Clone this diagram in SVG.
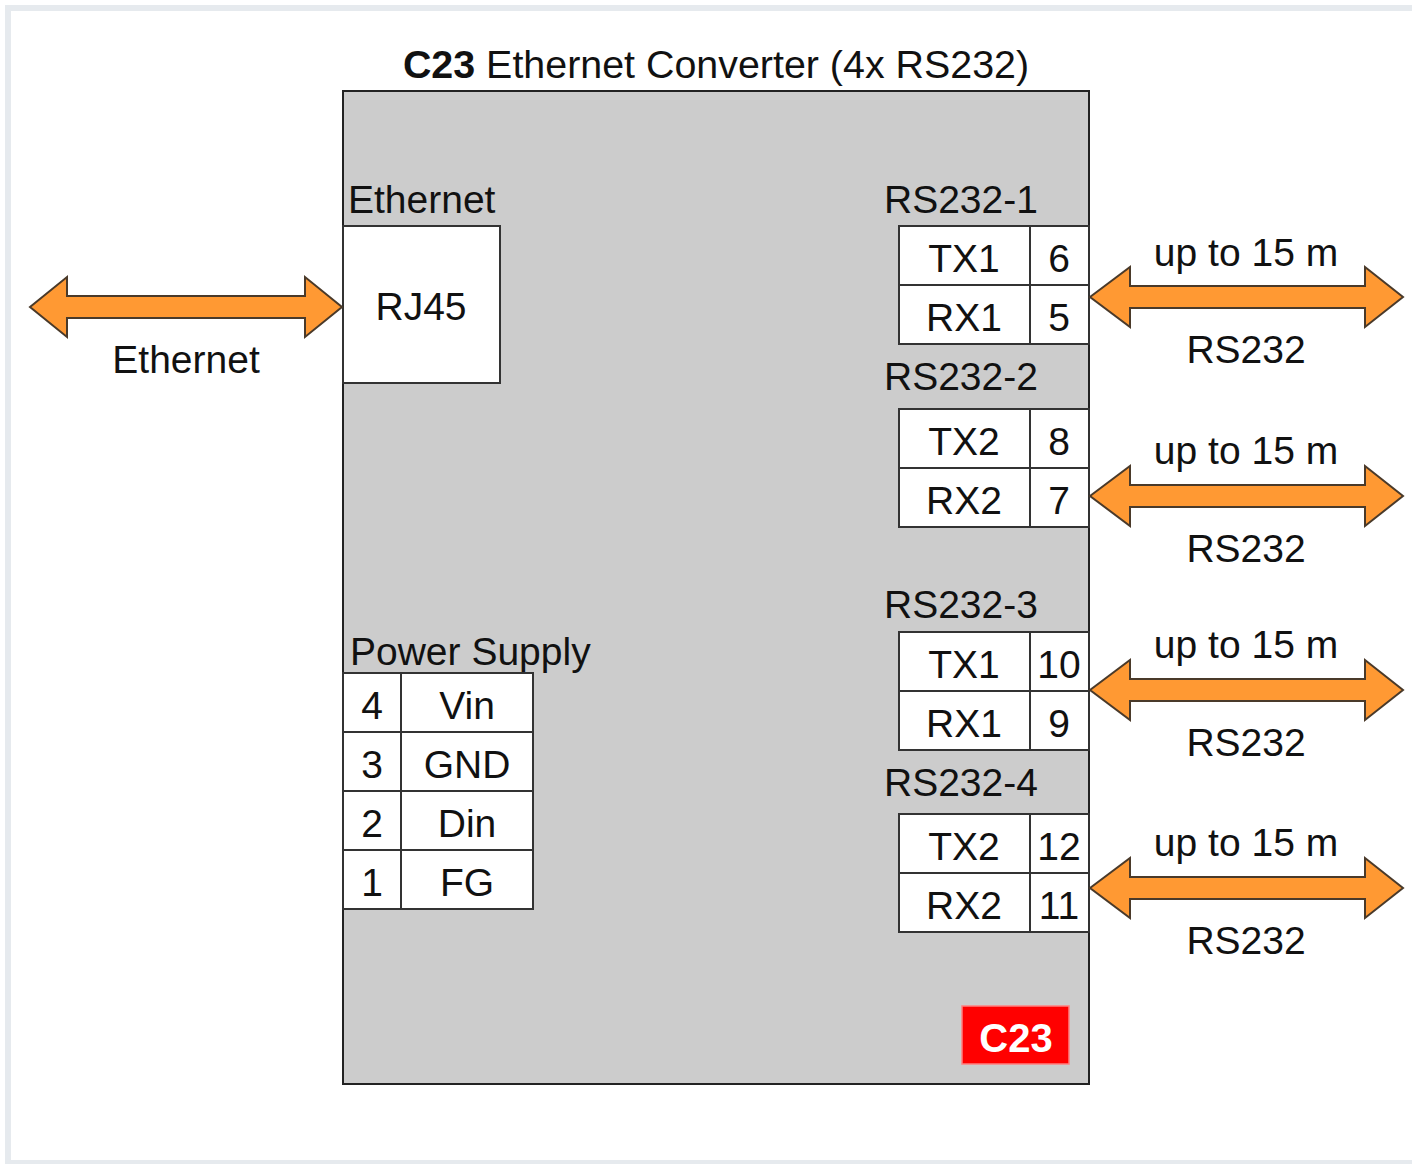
<svg xmlns="http://www.w3.org/2000/svg" width="1418" height="1164" viewBox="0 0 1418 1164">
<style>
text{font-family:"Liberation Sans",Arial,Helvetica,sans-serif;font-size:39px;fill:#111}
.c{text-anchor:middle}
.cell{fill:#ffffff;stroke:#333333;stroke-width:2}
.arrow{fill:#ff9933;stroke:#4a3a2a;stroke-width:2;stroke-linejoin:miter}
.frame{fill:none;stroke:#e6eaee;stroke-width:6}
</style>
<rect x="0" y="0" width="1418" height="1164" fill="#ffffff"/>
<path class="frame" d="M8,1164 V8 H1412 M8,1163 H1412"/>
<g id="title">
<text class="c" x="716" y="78" style="font-size:39.4px"><tspan font-weight="bold">C23</tspan> Ethernet Converter (4x RS232)</text>
</g>
<g id="converter">
<rect x="343" y="91" width="746" height="993" fill="#cccccc" stroke="#222222" stroke-width="2"/>
</g>
<g id="ethernet-port">
<text x="348" y="213">Ethernet</text>
<rect class="cell" x="343" y="226" width="157" height="157"/>
<text class="c" x="421" y="320">RJ45</text>
</g>
<g id="rs232-1">
<text x="884" y="213">RS232-1</text>
<rect class="cell" x="899" y="226" width="131" height="59"/>
<rect class="cell" x="1030" y="226" width="59" height="59"/>
<rect class="cell" x="899" y="285" width="131" height="59"/>
<rect class="cell" x="1030" y="285" width="59" height="59"/>
<text class="c" x="964" y="272">TX1</text>
<text class="c" x="1059" y="272">6</text>
<text class="c" x="964" y="331">RX1</text>
<text class="c" x="1059" y="331">5</text>
</g>
<g id="rs232-2">
<text x="884" y="390">RS232-2</text>
<rect class="cell" x="899" y="409" width="131" height="59"/>
<rect class="cell" x="1030" y="409" width="59" height="59"/>
<rect class="cell" x="899" y="468" width="131" height="59"/>
<rect class="cell" x="1030" y="468" width="59" height="59"/>
<text class="c" x="964" y="455">TX2</text>
<text class="c" x="1059" y="455">8</text>
<text class="c" x="964" y="514">RX2</text>
<text class="c" x="1059" y="514">7</text>
</g>
<g id="rs232-3">
<text x="884" y="618">RS232-3</text>
<rect class="cell" x="899" y="632" width="131" height="59"/>
<rect class="cell" x="1030" y="632" width="59" height="59"/>
<rect class="cell" x="899" y="691" width="131" height="59"/>
<rect class="cell" x="1030" y="691" width="59" height="59"/>
<text class="c" x="964" y="678">TX1</text>
<text class="c" x="1059" y="678">10</text>
<text class="c" x="964" y="737">RX1</text>
<text class="c" x="1059" y="737">9</text>
</g>
<g id="rs232-4">
<text x="884" y="796">RS232-4</text>
<rect class="cell" x="899" y="814" width="131" height="59"/>
<rect class="cell" x="1030" y="814" width="59" height="59"/>
<rect class="cell" x="899" y="873" width="131" height="59"/>
<rect class="cell" x="1030" y="873" width="59" height="59"/>
<text class="c" x="964" y="860">TX2</text>
<text class="c" x="1059" y="860">12</text>
<text class="c" x="964" y="919">RX2</text>
<text class="c" x="1059" y="919">11</text>
</g>
<g id="power-supply">
<text x="350" y="665">Power Supply</text>
<rect class="cell" x="343" y="673" width="58" height="59"/>
<rect class="cell" x="401" y="673" width="132" height="59"/>
<rect class="cell" x="343" y="732" width="58" height="59"/>
<rect class="cell" x="401" y="732" width="132" height="59"/>
<rect class="cell" x="343" y="791" width="58" height="59"/>
<rect class="cell" x="401" y="791" width="132" height="59"/>
<rect class="cell" x="343" y="850" width="58" height="59"/>
<rect class="cell" x="401" y="850" width="132" height="59"/>
<text class="c" x="372" y="719">4</text>
<text class="c" x="467" y="719">Vin</text>
<text class="c" x="372" y="778">3</text>
<text class="c" x="467" y="778">GND</text>
<text class="c" x="372" y="837">2</text>
<text class="c" x="467" y="837">Din</text>
<text class="c" x="372" y="896">1</text>
<text class="c" x="467" y="896">FG</text>
</g>
<g id="badge">
<rect x="962" y="1006" width="107" height="58" fill="#ff0000" stroke="#ff8080" stroke-width="1.5"/>
<text class="c" x="1016" y="1052" font-weight="bold" style="fill:#ffffff;font-size:40px">C23</text>
</g>
<g id="connectors">
<path class="arrow" d="M30,307 L67,277 L67,296 L305,296 L305,277 L342,307 L305,337 L305,318 L67,318 L67,337 Z"/>
<text class="c" x="186" y="373">Ethernet</text>
<path class="arrow" d="M1090,297 L1130,267 L1130,286 L1365,286 L1365,267 L1403,297 L1365,327 L1365,308 L1130,308 L1130,327 Z"/>
<text class="c" x="1246" y="266">up to 15 m</text>
<text class="c" x="1246" y="363">RS232</text>
<path class="arrow" d="M1090,496 L1130,466 L1130,485 L1365,485 L1365,466 L1403,496 L1365,526 L1365,507 L1130,507 L1130,526 Z"/>
<text class="c" x="1246" y="464">up to 15 m</text>
<text class="c" x="1246" y="562">RS232</text>
<path class="arrow" d="M1090,690 L1130,660 L1130,679 L1365,679 L1365,660 L1403,690 L1365,720 L1365,701 L1130,701 L1130,720 Z"/>
<text class="c" x="1246" y="658">up to 15 m</text>
<text class="c" x="1246" y="756">RS232</text>
<path class="arrow" d="M1090,888 L1130,858 L1130,877 L1365,877 L1365,858 L1403,888 L1365,918 L1365,899 L1130,899 L1130,918 Z"/>
<text class="c" x="1246" y="856">up to 15 m</text>
<text class="c" x="1246" y="954">RS232</text>
</g>
</svg>
